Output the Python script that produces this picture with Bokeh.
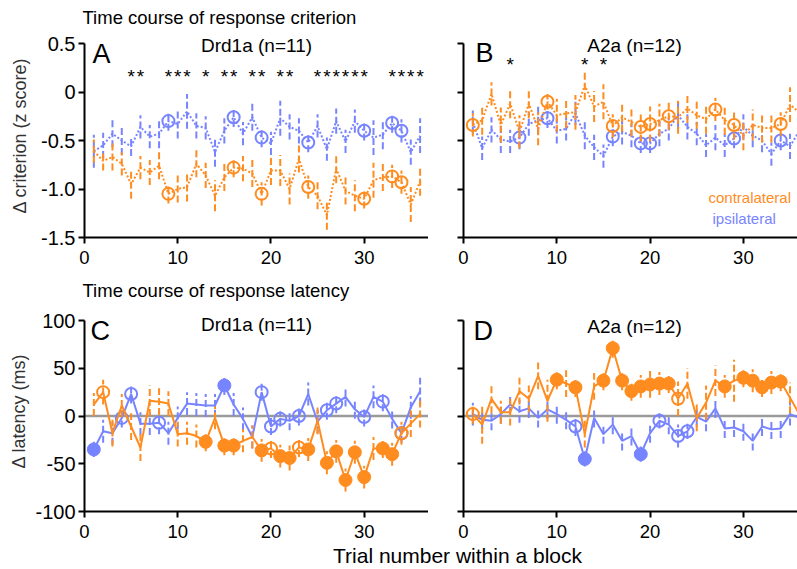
from bokeh.plotting import figure
from bokeh.layouts import column, row
from bokeh.models import Range1d, FixedTicker, Label, ColumnDataSource
from bokeh.embed import file_html
from bokeh.resources import INLINE
from bokeh.core.properties import value

# ---------------- data ----------------
trials = list(range(1, 37))

# Panel A: Drd1a, response criterion (z score)
a_contra = [-0.61, -0.71, -0.67, -0.74, -0.95, -0.78, -0.83, -0.76, -1.05, -1.00, -0.98, -0.74,
            -0.86, -1.07, -0.88, -0.78, -0.79, -0.84, -1.05, -0.81, -0.81, -1.00, -0.69, -0.98,
            -1.07, -1.27, -0.79, -1.02, -1.07, -1.10, -0.91, -0.88, -0.87, -0.93, -1.16, -0.92]
a_contra_err = [0.12, 0.10, 0.14, 0.12, 0.15, 0.12, 0.13, 0.14, 0.10, 0.14, 0.15, 0.14,
                0.13, 0.16, 0.14, 0.10, 0.13, 0.14, 0.12, 0.15, 0.16, 0.16, 0.14, 0.12,
                0.14, 0.15, 0.15, 0.14, 0.16, 0.10, 0.18, 0.14, 0.12, 0.12, 0.18, 0.15]
a_ipsi = [-0.61, -0.55, -0.43, -0.50, -0.56, -0.36, -0.46, -0.43, -0.30, -0.33, -0.20, -0.35,
          -0.37, -0.62, -0.40, -0.26, -0.43, -0.26, -0.47, -0.53, -0.27, -0.36, -0.40, -0.52,
          -0.35, -0.59, -0.30, -0.51, -0.30, -0.40, -0.47, -0.44, -0.32, -0.40, -0.62, -0.45]
a_ipsi_err = [0.17, 0.13, 0.14, 0.15, 0.10, 0.12, 0.12, 0.15, 0.10, 0.15, 0.18, 0.13,
              0.12, 0.15, 0.13, 0.10, 0.12, 0.14, 0.10, 0.12, 0.18, 0.13, 0.13, 0.10,
              0.12, 0.12, 0.13, 0.12, 0.12, 0.10, 0.18, 0.15, 0.10, 0.12, 0.13, 0.18]
a_contra_open = [9, 16, 19, 24, 30, 33, 34]
a_ipsi_open = [9, 16, 19, 24, 30, 33, 34]
a_stars = [5, 6, 9, 10, 11, 13, 15, 16, 18, 19, 21, 22, 25, 26, 27, 28, 29, 30, 33, 34, 35, 36]

# Panel B: A2a, response criterion (z score)
b_contra = [-0.34, -0.29, -0.02, -0.34, -0.12, -0.41, -0.12, -0.38, -0.10, -0.24, -0.22, -0.21,
            0.07, -0.15, -0.10, -0.35, -0.26, -0.31, -0.36, -0.33, -0.29, -0.25, -0.26, -0.17,
            -0.24, -0.28, -0.18, -0.29, -0.34, -0.45, -0.34, -0.37, -0.37, -0.33, -0.13, -0.21]
b_contra_err = [0.12, 0.15, 0.12, 0.18, 0.15, 0.17, 0.15, 0.17, 0.08, 0.17, 0.15, 0.18,
                0.15, 0.16, 0.18, 0.12, 0.15, 0.15, 0.15, 0.18, 0.17, 0.14, 0.17, 0.15,
                0.14, 0.15, 0.12, 0.15, 0.15, 0.15, 0.16, 0.15, 0.15, 0.12, 0.18, 0.15]
b_ipsi = [-0.31, -0.58, -0.39, -0.49, -0.51, -0.47, -0.33, -0.29, -0.27, -0.40, -0.38, -0.22,
          -0.45, -0.57, -0.66, -0.46, -0.41, -0.45, -0.53, -0.53, -0.43, -0.38, -0.24, -0.36,
          -0.43, -0.55, -0.47, -0.55, -0.48, -0.36, -0.45, -0.50, -0.64, -0.50, -0.56, -0.40]
b_ipsi_err = [0.12, 0.12, 0.13, 0.14, 0.12, 0.12, 0.12, 0.14, 0.10, 0.13, 0.12, 0.12,
              0.14, 0.13, 0.12, 0.10, 0.13, 0.12, 0.10, 0.10, 0.13, 0.12, 0.14, 0.13,
              0.12, 0.12, 0.13, 0.12, 0.10, 0.13, 0.12, 0.12, 0.12, 0.10, 0.13, 0.13]
b_contra_open = [1, 9, 16, 19, 20, 22, 27, 29, 34]
b_ipsi_open = [6, 9, 16, 19, 20, 29, 34]
b_stars = [5, 13, 15]

# Panel C: Drd1a, response latency (ms)
c_contra = [12, 25, -18, 11, -11, -33, 16, 15, 13, -19, -18, -21, -27, -2, -31, -31, -26, -22,
            -36, -34, -42, -44, -33, -35, -5, -49, -37, -67, -38, -64, -34, -34, -40, -18, -8, 2]
c_contra_err = [12, 13, 14, 12, 14, 14, 16, 14, 13, 13, 12, 12, 10, 12, 10, 10, 12, 12,
                12, 10, 12, 13, 10, 12, 14, 12, 12, 12, 12, 12, 12, 10, 12, 12, 14, 14]
c_ipsi = [-35, -16, -18, -2, 23, -8, -8, -7, -18, -2, 13, 12, 11, 11, 32, 12, -3, -22,
          25, -11, -3, -5, 0, 23, -6, 6, 13, 20, 7, -1, 20, 15, -3, -18, 9, 26]
c_ipsi_err = [8, 12, 12, 10, 10, 12, 12, 12, 12, 12, 12, 12, 12, 12, 10, 12, 12, 12,
              9, 9, 8, 10, 10, 12, 12, 10, 10, 10, 10, 10, 12, 10, 10, 10, 12, 14]
c_contra_filled = [13, 15, 16, 19, 21, 22, 24, 26, 27, 28, 29, 30, 32, 33]
c_contra_open = [2, 20, 23, 34]
c_ipsi_filled = [1, 15]
c_ipsi_open = [4, 5, 8, 19, 20, 21, 23, 26, 27, 30, 32, 34]

# Panel D: A2a, response latency (ms)
d_contra = [2, -9, 18, 4, 4, 26, 18, 42, 16, 38, 34, 30, -19, 31, 37, 71, 37, 26,
            31, 33, 34, 34, 18, 34, -2, 14, 37, 31, 37, 40, 37, 30, 35, 36, 19, 2]
d_contra_err = [10, 20, 15, 12, 14, 14, 14, 14, 22, 10, 14, 10, 14, 14, 10, 10, 10, 10,
                12, 14, 12, 10, 18, 16, 14, 18, 16, 12, 22, 10, 12, 10, 12, 10, 16, 14]
d_ipsi = [2, -4, -5, 2, 12, 5, 8, -2, 7, 2, -4, -11, -45, -2, -19, -9, -26, -21,
          -40, -18, -5, -9, -21, -16, -1, -6, 8, -13, -12, -16, -26, -11, -14, -13, 2, -2]
d_ipsi_err = [12, 10, 10, 10, 10, 12, 10, 10, 10, 10, 10, 10, 8, 10, 10, 10, 10, 10,
              8, 10, 8, 10, 12, 8, 10, 10, 10, 10, 10, 10, 10, 10, 10, 10, 12, 12]
d_contra_filled = [10, 12, 15, 16, 17, 18, 19, 20, 21, 22, 28, 30, 31, 32, 33, 34]
d_contra_open = [1, 23]
d_ipsi_filled = [13, 19]
d_ipsi_open = [12, 21, 23, 24]

x_ticks = [0, 10, 20, 30]
x_tick_labels = ["0", "10", "20", "30"]
crit_ticks = [-1.5, -1.0, -0.5, 0, 0.5]
crit_tick_labels = ["-1.5", "-1.0", "-0.5", "0", "0.5"]
lat_ticks = [-100, -50, 0, 50, 100]
lat_tick_labels = ["-100", "-50", "0", "50", "100"]

# ---------------- style ----------------
FONT = "Liberation Sans"
ORANGE = "#FF8C1F"
BLUE = "#7784FF"
GRAY = "#9A9A9A"
PAD_PX = 10   # free room above the top of each y axis (for panel headings)


def make_fig(width, height, x_end, y_lo, y_hi, axis_px, left, bottom, yticks, ylabels,
             show_ylabels, ylabel=None, ylabel_standoff=8):
    y_top = y_hi + PAD_PX * (y_hi - y_lo) / axis_px
    p = figure(width=width, height=height,
               x_range=Range1d(0, x_end), y_range=Range1d(y_lo, y_top),
               output_backend="svg", toolbar_location=None,
               min_border_left=left, min_border_right=0,
               min_border_top=0, min_border_bottom=bottom)
    p.outline_line_color = None
    p.grid.visible = False
    p.background_fill_color = "white"
    p.border_fill_color = "white"
    for ax in (p.xaxis[0], p.yaxis[0]):
        ax.axis_line_width = 2
        ax.axis_line_color = "black"
        ax.major_tick_line_width = 2
        ax.major_tick_line_color = "black"
        ax.major_tick_out = 6
        ax.major_tick_in = 0
        ax.minor_tick_line_color = None
        ax.major_label_text_font = FONT
        ax.major_label_text_color = "black"
        ax.major_label_standoff = 3
    p.xaxis.major_label_text_font_size = "18.5px"
    p.yaxis.major_label_text_font_size = "20px"
    p.yaxis.bounds = (y_lo, y_hi)
    p.xaxis.major_label_standoff = 7
    p.xaxis.ticker = FixedTicker(ticks=x_ticks)
    p.xaxis.major_label_overrides = dict(zip(x_ticks, x_tick_labels))
    p.yaxis.ticker = FixedTicker(ticks=yticks)
    if show_ylabels:
        p.yaxis.major_label_overrides = dict(zip(yticks, ylabels))
    else:
        p.yaxis.major_label_overrides = {t: "" for t in yticks}
    if ylabel:
        p.yaxis.axis_label = ylabel
        p.yaxis.axis_label_text_font = FONT
        p.yaxis.axis_label_text_font_size = "18px"
        p.yaxis.axis_label_text_font_style = "normal"
        p.yaxis.axis_label_text_color = "#333333"
        p.yaxis.axis_label_standoff = ylabel_standoff
    return p


def subset(xs, ys, keep):
    return [x for x in xs if x in keep], [y for x, y in zip(xs, ys) if x in keep]


def draw_series(p, ys, errs, color, line_dash, open_pts, filled_pts, size=12):
    src = ColumnDataSource(dict(x=trials, y=ys,
                                lo=[y - e for y, e in zip(ys, errs)],
                                hi=[y + e for y, e in zip(ys, errs)]))
    p.segment(x0="x", y0="lo", x1="x", y1="hi", source=src,
              line_color=color, line_width=2, line_dash="7 3")
    p.line("x", "y", source=src, line_color=color, line_width=2, line_dash=line_dash)
    ox, oy = subset(trials, ys, open_pts)
    if ox:
        p.scatter(ox, oy, marker="circle", size=size, fill_color=None,
                  line_color=color, line_width=2)
    fx, fy = subset(trials, ys, filled_pts)
    if fx:
        p.scatter(fx, fy, marker="circle", size=size + 1, fill_color=color,
                  line_color=color, line_width=1)


def add_label(p, text, x, y, size, color="black", align="left"):
    p.add_layout(Label(x=x, y=y, x_units="screen", y_units="screen", text=text,
                       text_font=FONT, text_font_size=size, text_color=color,
                       text_align=align, text_baseline="alphabetic"))


def add_stars(p, xs, level):
    p.text(x=xs, y=[level] * len(xs), text=["*"] * len(xs),
           text_font=value(FONT), text_font_size="19px", text_color="black",
           text_align="center", text_baseline="alphabetic")


def strip_fig(height):
    s = figure(width=797, height=height, x_range=Range1d(0, 797), y_range=Range1d(0, height),
               x_axis_type=None, y_axis_type=None, output_backend="svg",
               toolbar_location=None, min_border=0)
    s.outline_line_color = None
    s.grid.visible = False
    return s


# ---------------- panels ----------------
TOP_H = 237      # top row: frame (incl. pad) + x axis
BOT_H = 231      # bottom row

title1 = strip_fig(33)
add_label(title1, "Time course of response criterion", 82, 16, "18.5px")

pA = make_fig(428, TOP_H, 36.9, -1.5, 0.5, 194, 84, 33, crit_ticks, crit_tick_labels,
              True, "\u0394 criterion (z score)", 8)
draw_series(pA, a_ipsi, a_ipsi_err, BLUE, "2 2", a_ipsi_open, [])
draw_series(pA, a_contra, a_contra_err, ORANGE, "2 2", a_contra_open, [])
add_stars(pA, a_stars, 0.16)
add_label(pA, "A", 8, 184, "27px")
add_label(pA, "Drd1a (n=11)", 172, 192, "19px", align="center")

pB = make_fig(369, TOP_H, 35.8, -1.5, 0.5, 194, 35, 33, crit_ticks, crit_tick_labels, False)
draw_series(pB, b_ipsi, b_ipsi_err, BLUE, "2 2", b_ipsi_open, [])
draw_series(pB, b_contra, b_contra_err, ORANGE, "2 2", b_contra_open, [])
add_stars(pB, b_stars, 0.28)
add_label(pB, "B", 12, 185, "27px")
add_label(pB, "A2a (n=12)", 171, 192, "19px", align="center")
add_label(pB, "contralateral", 245, 40, "15px", color=ORANGE)
add_label(pB, "ipsilateral", 249, 19, "15px", color=BLUE)

title2 = strip_fig(40)
add_label(title2, "Time course of response latency", 82, 20, "18.5px")

pC = make_fig(428, BOT_H, 36.9, -100, 100, 191, 84, 30, lat_ticks, lat_tick_labels,
              True, "\u0394 latency (ms)", 3)
pC.line(x=[0, 36.9], y=[0, 0], line_color=GRAY, line_width=2.5)
draw_series(pC, c_ipsi, c_ipsi_err, BLUE, "solid", c_ipsi_open, c_ipsi_filled)
draw_series(pC, c_contra, c_contra_err, ORANGE, "solid", c_contra_open, c_contra_filled)
add_label(pC, "C", 6, 181, "27px")
add_label(pC, "Drd1a (n=11)", 172, 187, "19px", align="center")

pD = make_fig(369, BOT_H, 35.8, -100, 100, 191, 35, 30, lat_ticks, lat_tick_labels, False)
pD.line(x=[0, 35.8], y=[0, 0], line_color=GRAY, line_width=2.5)
draw_series(pD, d_ipsi, d_ipsi_err, BLUE, "solid", d_ipsi_open, d_ipsi_filled)
draw_series(pD, d_contra, d_contra_err, ORANGE, "solid", d_contra_open, d_contra_filled)
add_label(pD, "D", 10, 181, "27px")
add_label(pD, "A2a (n=12)", 171, 185, "19px", align="center")

bottom = strip_fig(28)
add_label(bottom, "Trial number within a block", 457, 14, "21px", align="center")

layout = column(title1, row(pA, pB), title2, row(pC, pD), bottom)

with open("out.html", "w") as f:
    f.write(file_html(layout, INLINE))
